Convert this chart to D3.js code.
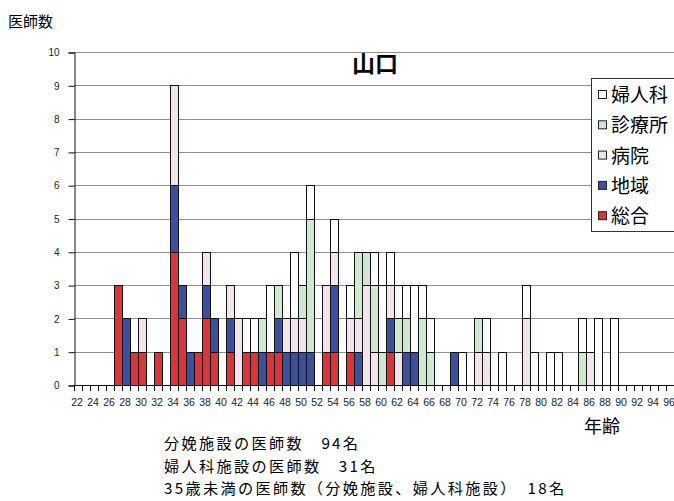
<!DOCTYPE html>
<html><head><meta charset="utf-8">
<script src="https://cdn.jsdelivr.net/npm/d3@7"></script>
<style>
html,body{margin:0;padding:0;background:#fff;}
svg{display:block;}
</style>
</head><body>
<svg id="chart" width="674" height="501"></svg>
<script>
// ---- data ----
const ages = [22,23,24,25,26,27,28,29,30,31,32,33,34,35,36,37,38,39,40,41,42,43,44,45,46,47,48,49,50,51,52,53,54,55,56,57,58,59,60,61,62,63,64,65,66,67,68,69,70,71,72,73,74,75,76,77,78,79,80,81,82,83,84,85,86,87,88,89,90,91,92,93,94,95,96];
const sogo     = [0,0,0,0,0,3,0,1,1,0, 1,0,4,2,0,1,2,1,0,1, 0,1,1,0,1,1,0,0,0,0, 0,1,1,0,1,0,0,0,0,1, 0,0,0,0,0,0,0,0,0,0, 0,0,0,0,0,0,0,0,0,0, 0,0,0,0,0,0,0,0,0,0, 0,0,0,0,0];
const chiiki   = [0,0,0,0,0,0,2,0,0,0, 0,0,2,1,1,0,1,1,0,1, 0,0,0,1,0,1,1,1,1,1, 0,0,2,0,0,1,0,0,0,1, 0,1,1,0,0,0,0,1,0,0, 0,0,0,0,0,0,0,0,0,0, 0,0,0,0,0,0,0,0,0,0, 0,0,0,0,0];
const byoin    = [0,0,0,0,0,0,0,0,1,0, 0,0,3,0,0,0,1,0,0,1, 2,0,0,0,0,0,1,1,1,0, 0,2,1,0,1,1,3,1,0,1, 1,0,0,0,0,0,0,0,0,0, 1,1,0,0,0,0,2,0,0,0, 0,0,0,0,1,0,0,0,0,0, 0,0,0,0,0];
const shinryo  = [0,0,0,0,0,0,0,0,0,0, 0,0,0,0,0,0,0,0,0,0, 0,0,0,1,0,1,0,0,1,4, 0,0,0,0,0,2,1,2,1,0, 1,1,0,2,1,0,0,0,0,0, 1,0,0,0,0,0,0,0,0,0, 0,0,0,1,0,0,0,0,0,0, 0,0,0,0,0];
const fujinka  = [0,0,0,0,0,0,0,0,0,0, 0,0,0,0,0,0,0,0,0,0, 0,1,1,0,2,0,0,2,0,1, 0,0,1,0,1,0,0,1,2,1, 1,1,2,1,1,0,0,0,1,0, 0,1,0,1,0,0,1,1,0,1, 1,0,0,1,0,2,0,2,0,0, 0,0,0,0,0];
const seriesNames = ["総合","地域","病院","診療所","婦人科"];
const seriesColors = ["#d8353c","#3d4f9e","#f3e4eb","#cfe8d2","#ffffff"];
const yTicks = [0,1,2,3,4,5,6,7,8,9,10];
const xLabels = ages.filter(a => a % 2 === 0);
const title = "山口";
const yTitle = "医師数";
const xTitle = "年齢";
const notes = ["分娩施設の医師数　94名","婦人科施設の医師数　31名","35歳未満の医師数（分娩施設、婦人科施設）　18名"];

// ---- build ----
const svg = d3.select("#chart");
const x = d3.scaleBand().domain(ages).range([74, 674]).padding(0);
const y = d3.scaleLinear().domain([0, 10]).range([385, 52]);

const rows = ages.map((a, i) => ({age: a, "総合": sogo[i], "地域": chiiki[i], "病院": byoin[i], "診療所": shinryo[i], "婦人科": fujinka[i]}));
const stacked = d3.stack().keys(seriesNames)(rows);

// gridlines
svg.append("g").selectAll("line").data(yTicks.filter(d => d > 0)).join("line")
  .attr("x1", 74).attr("x2", 674)
  .attr("y1", d => Math.round(y(d)) + 0.5).attr("y2", d => Math.round(y(d)) + 0.5)
  .attr("stroke", "#8f8f8f").attr("stroke-width", 1);

// bars
svg.append("g").selectAll("g").data(stacked).join("g")
  .attr("fill", (d, i) => seriesColors[i])
  .selectAll("rect").data(d => d.filter(s => s[1] - s[0] > 0)).join("rect")
  .attr("x", d => Math.round(x(d.data.age)) + 0.5)
  .attr("width", x.bandwidth())
  .attr("y", d => Math.round(y(d[1])) + 0.5)
  .attr("height", d => Math.round(y(d[0])) - Math.round(y(d[1])))
  .attr("stroke", "#111").attr("stroke-width", 1);

// y axis
const yAxis = d3.axisLeft(y).tickValues(yTicks).tickSize(6).tickPadding(9).tickFormat(d3.format("d"));
const gy = svg.append("g").attr("transform", "translate(74.5,0.5)").call(yAxis);
gy.select(".domain").attr("stroke", "#111");
gy.selectAll(".tick line").attr("stroke", "#111");
gy.selectAll("text").attr("font-family", "Liberation Sans, Arial, sans-serif").attr("font-size", 10).attr("fill", "#222");

// x axis
const xAxis = d3.axisBottom(x).tickValues(xLabels).tickSize(0).tickPadding(13);
const gx = svg.append("g").attr("transform", "translate(0,385.5)").call(xAxis);
gx.select(".domain").remove();
gx.selectAll("text").attr("font-family", "Liberation Sans, Arial, sans-serif").attr("font-size", 10.5).attr("fill", "#222").attr("dx", -1);
svg.append("line").attr("x1", 74).attr("x2", 674).attr("y1", 385.5).attr("y2", 385.5).attr("stroke", "#111");
// tick marks at category boundaries
svg.append("g").selectAll("line").data(ages).join("line")
  .attr("x1", d => Math.round(x(d)) + 0.5).attr("x2", d => Math.round(x(d)) + 0.5)
  .attr("y1", 385).attr("y2", 391).attr("stroke", "#111");

// titles
svg.append("text").attr("x", 375).attr("y", 72).attr("text-anchor", "middle")
  .attr("font-family", "Noto Sans CJK JP").attr("font-weight", "bold").attr("font-size", 23).text(title);
svg.append("text").attr("x", 8).attr("y", 27)
  .attr("font-family", "Noto Sans CJK JP").attr("font-size", 15).text(yTitle);
svg.append("text").attr("x", 584).attr("y", 433)
  .attr("font-family", "Noto Sans CJK JP").attr("font-size", 18).text(xTitle);
svg.append("g").selectAll("text").data(notes).join("text")
  .attr("x", 164).attr("y", (d, i) => 449 + i * 22.5)
  .attr("font-family", "Noto Sans CJK JP").attr("font-size", 15.2)
  .attr("letter-spacing", 2.3).text(d => d);

// legend
const lg = svg.append("g");
lg.append("rect").attr("x", 591.5).attr("y", 78.5).attr("width", 90).attr("height", 153)
  .attr("fill", "#fff").attr("stroke", "#333");
const legendOrder = seriesNames.map((n, i) => ({name: n, color: seriesColors[i]})).reverse();
const li = lg.selectAll("g").data(legendOrder).join("g")
  .attr("transform", (d, i) => `translate(598,${95 + i * 30.3})`);
li.append("rect").attr("x", 0.5).attr("y", -4.5).attr("width", 8).attr("height", 8)
  .attr("fill", d => d.color).attr("stroke", "#222");
li.append("text").attr("x", 13).attr("y", 7).attr("font-family", "Noto Sans CJK JP").attr("font-size", 19).text(d => d.name);
</script>
</body></html>
